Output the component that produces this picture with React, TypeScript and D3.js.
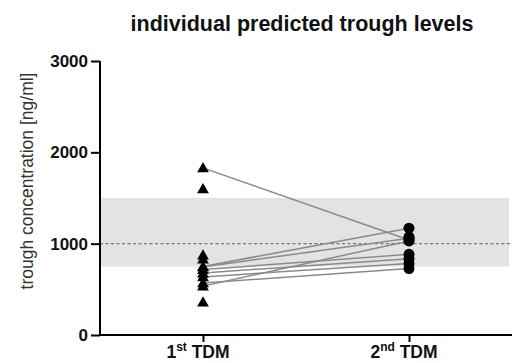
import { useRef, useEffect } from "react";
import * as d3 from "d3";

// paired patients: [1st TDM, 2nd TDM] in ng/ml
const pairedFirst = [1830, 750, 745, 535, 716, 679, 636, 570];
const pairedSecond = [1040, 1170, 1060, 1030, 883, 836, 782, 727];
// values without a partner
const onlyFirst = [1600, 875, 830, 360];
const onlySecond = [1075];

const categories = ["1st", "2nd"];
const yTicks = [0, 1000, 2000, 3000];
const targetLow = 750;
const targetHigh = 1500;
const targetMid = 1000;

export default function App() {
  const svgRef = useRef(null);

  useEffect(() => {
    const width = 517;
    const height = 363;
    const svg = d3.select(svgRef.current);
    svg.selectAll("*").remove();
    svg.attr("width", width).attr("height", height).style("font-family", "'Liberation Sans', Arial, sans-serif");

    const left = 100, right = 512, top = 61, bottom = 335;

    const x = d3.scalePoint().domain(categories).range([left, right]).padding(0.5);
    const y = d3.scaleLinear().domain([0, 3000]).range([bottom, top]);

    const g = svg.append("g");

    // target range band
    g.append("rect")
      .attr("x", left)
      .attr("y", y(targetHigh))
      .attr("width", right - 3 - left)
      .attr("height", y(targetLow) - y(targetHigh))
      .attr("fill", "#e3e3e3");

    g.append("line")
      .attr("x1", left).attr("x2", right)
      .attr("y1", y(targetMid)).attr("y2", y(targetMid))
      .attr("stroke", "#777")
      .attr("stroke-width", 1.2)
      .attr("stroke-dasharray", "3,2.5");

    // connecting lines
    pairedFirst.forEach((v, i) => {
      g.append("line")
        .attr("x1", x("1st")).attr("y1", y(v))
        .attr("x2", x("2nd")).attr("y2", y(pairedSecond[i]))
        .attr("stroke", "#8a8a8a")
        .attr("stroke-width", 1.5);
    });

    const tri = d3.symbol().type(d3.symbolTriangle).size(60);
    [...pairedFirst, ...onlyFirst].forEach((v) => {
      g.append("path")
        .attr("d", tri)
        .attr("transform", `translate(${x("1st")},${y(v) + 1})`)
        .attr("fill", "#000");
    });
    [...pairedSecond, ...onlySecond].forEach((v) => {
      g.append("circle")
        .attr("cx", x("2nd")).attr("cy", y(v))
        .attr("r", 5.5)
        .attr("fill", "#000");
    });

    // y axis
    const yAxis = g.append("g")
      .attr("transform", `translate(${left},0)`)
      .call(d3.axisLeft(y).tickValues(yTicks).tickSize(9).tickPadding(3).tickFormat(d3.format("d")));
    yAxis.select(".domain").attr("stroke", "#000").attr("stroke-width", 2).attr("d", `M0,${top}V${bottom}`);
    yAxis.selectAll(".tick line").attr("stroke", "#000").attr("stroke-width", 2);
    yAxis.selectAll(".tick text")
      .attr("fill", "#111")
      .style("font-size", "17px")
      .style("font-weight", "bold")
      .style("font-family", "'Liberation Sans', Arial, sans-serif");

    // x axis
    const xAxis = g.append("g")
      .attr("transform", `translate(0,${bottom})`)
      .call(d3.axisBottom(x).tickSize(7).tickFormat(() => ""));
    xAxis.select(".domain").attr("stroke", "#000").attr("stroke-width", 2).attr("d", `M${left},0H${right}`);
    xAxis.selectAll(".tick line").attr("stroke", "#000").attr("stroke-width", 2);

    const supers: Record<string, [string, string]> = { "1st": ["1", "st"], "2nd": ["2", "nd"] };
    categories.forEach((c) => {
      const t = svg.append("text")
        .attr("x", (x(c) ?? 0) - 5)
        .attr("y", 358)
        .attr("text-anchor", "middle")
        .attr("fill", "#111")
        .style("font-size", "17.5px")
        .style("font-weight", "bold");
      t.append("tspan").text(supers[c][0]);
      t.append("tspan").text(supers[c][1]).attr("dy", -7).style("font-size", "12px");
      t.append("tspan").text(" TDM").attr("dy", 7);
    });

    // y label
    svg.append("text")
      .attr("transform", `translate(33,${181}) rotate(-90)`)
      .attr("text-anchor", "middle")
      .attr("fill", "#333")
      .style("font-size", "17.5px")
      .text("trough concentration [ng/ml]");

    // title
    svg.append("text")
      .attr("x", 302)
      .attr("y", 31)
      .attr("text-anchor", "middle")
      .attr("fill", "#111")
      .style("font-size", "21.5px")
      .style("font-weight", "bold")
      .text("individual predicted trough levels");
  }, []);

  return (
    <svg ref={svgRef} style={{ position: "absolute", left: 0, top: 0 }}></svg>
  );
}
